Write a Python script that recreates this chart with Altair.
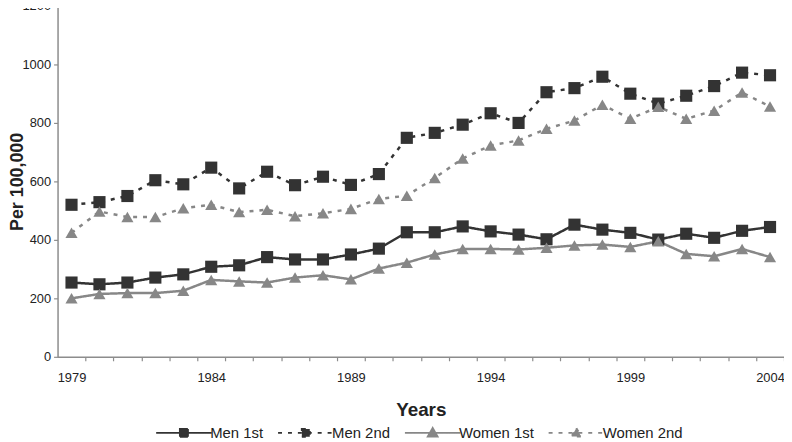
import altair as alt
import pandas as pd

years = list(range(1979, 2005))
men_1st = [254, 248, 254, 271, 282, 308, 313, 341, 333, 333, 350, 370, 426,
           426, 446, 429, 418, 402, 452, 435, 424, 401, 421, 407, 431, 444]
men_2nd = [520, 529, 550, 604, 590, 647, 576, 633, 587, 616, 588, 625, 749,
           766, 794, 833, 800, 905, 919, 958, 900, 866, 893, 926, 972, 963]
women_1st = [200, 215, 218, 218, 226, 263, 258, 254, 271, 279, 265, 302, 322,
             350, 369, 369, 367, 373, 381, 384, 376, 395, 352, 344, 369, 341]
women_2nd = [424, 497, 478, 478, 508, 520, 495, 503, 481, 491, 506, 540, 551,
             612, 678, 723, 740, 780, 808, 862, 814, 855, 814, 842, 904, 856]

series_names = ["Men 1st", "Men 2nd", "Women 1st", "Women 2nd"]
series_values = [men_1st, men_2nd, women_1st, women_2nd]
y_ticks = [0, 200, 400, 600, 800, 1000, 1200]

rows = []
for name, vals in zip(series_names, series_values):
    for yr, v in zip(years, vals):
        rows.append({"year": yr, "value": v, "series": name})
df = pd.DataFrame(rows)

DARK = "#333333"
GRAY = "#878787"
AXIS = "#8c8c8c"
FONT = "Liberation Sans"
DASH = [4, 6]
styles = {
    "Men 1st": dict(color=DARK, dash=[1, 0], shape="square", size=150),
    "Men 2nd": dict(color=DARK, dash=DASH, shape="square", size=150),
    "Women 1st": dict(color=GRAY, dash=[1, 0], shape="triangle-up", size=150),
    "Women 2nd": dict(color=GRAY, dash=DASH, shape="triangle-up", size=150),
}

W = 733
band = W / 26.0

x_enc = alt.X(
    "year:Q",
    scale=alt.Scale(domain=[1978.5, 2004.5], nice=False, zero=False),
    axis=alt.Axis(
        values=years, format="d",
        labelExpr="datum.value % 5 == 4 ? datum.label : ''",
        tickOffset=band / 2, labelOffset=-band / 2,
        grid=False, title="Years", tickSize=4, labelPadding=11,
        titlePadding=16,
    ),
)
y_enc = alt.Y(
    "value:Q",
    scale=alt.Scale(domain=[0, 1200], range=[350, -4], nice=False),
    axis=alt.Axis(values=y_ticks, format="d", grid=False, title="Per 100,000",
                  tickSize=4, labelPadding=3, titleX=-49, titleBaseline="top",
                  titleFontSize=18),
)

layers = []
for name in series_names:
    st = styles[name]
    base = alt.Chart(df).transform_filter(alt.datum.series == name)
    layers.append(
        base.mark_line(color=st["color"], strokeWidth=2.5, strokeDash=st["dash"])
        .encode(x=x_enc, y=y_enc)
    )
for name in series_names:
    st = styles[name]
    base = alt.Chart(df).transform_filter(alt.datum.series == name)
    layers.append(
        base.mark_point(shape=st["shape"], filled=True, size=st["size"],
                        color=st["color"], opacity=1)
        .encode(x=x_enc, y=y_enc)
    )

sq_path = "M-7,0H7M-1,-1H1V1H-1Z"
tri_path = "M-7,0H7M0,-1.2L1.2,0.9L-1.2,0.9Z"
leg = alt.Legend(
    orient="none", legendX=120, legendY=419, direction="horizontal",
    columns=4, title=None, labelFont=FONT, labelFontSize=15,
    labelColor="#222222", symbolSize=64, symbolStrokeWidth=2,
    labelOffset=19, columnPadding=10, symbolOpacity=1,
)
legend_layer = (
    alt.Chart(df)
    .transform_filter("false")
    .mark_point(filled=True, strokeWidth=2, opacity=1)
    .encode(
        shape=alt.Shape("series:N", scale=alt.Scale(
            domain=series_names, range=[sq_path, sq_path, tri_path, tri_path]), legend=leg),
        fill=alt.Fill("series:N", scale=alt.Scale(
            domain=series_names, range=[DARK, DARK, GRAY, GRAY]), legend=leg),
        stroke=alt.Stroke("series:N", scale=alt.Scale(
            domain=series_names, range=[DARK, DARK, GRAY, GRAY]), legend=leg),
        strokeDash=alt.StrokeDash("series:N", scale=alt.Scale(
            domain=series_names, range=[[1, 0], DASH, [1, 0], DASH]), legend=leg),
    )
)

chart = (
    alt.layer(*layers, legend_layer)
    .properties(
        width=W, height=350,
        autosize=alt.AutoSizeParams(type="none"),
        padding={"left": 50, "top": 0, "right": 0, "bottom": 84},
    )
    .configure_view(stroke=None)
    .configure_axis(
        domainColor=AXIS, domainWidth=1.5, tickColor=AXIS, tickWidth=1.2,
        labelFont=FONT, labelFontSize=13, labelColor="#222222",
        titleFont=FONT, titleFontSize=19, titleFontWeight="bold",
        titleColor="#222222",
    )
)

chart.save("out.html", embed_options={"renderer": "svg", "actions": False})
